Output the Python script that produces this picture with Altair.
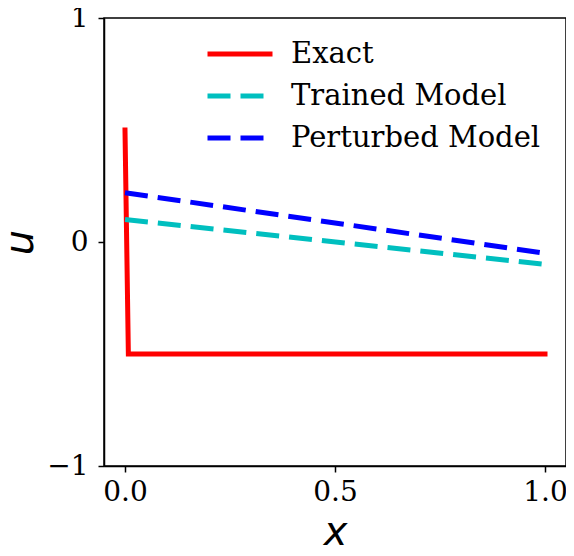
import altair as alt
import pandas as pd

# Data
x_exact = [0.0, 0.008, 1.0]
u_exact = [0.5, -0.5, -0.5]
x_model = [0.0, 1.0]
u_trained = [0.10, -0.10]
u_perturbed = [0.22, -0.05]

series = ["Exact", "Trained Model", "Perturbed Model"]
colors = ["#ff0000", "#00bfbf", "#0000ff"]
dashes = [[1, 0], [23, 10], [23, 10]]
x_ticks = [0, 0.5, 1]

rows = []
for i, (x, u) in enumerate(zip(x_exact, u_exact)):
    rows.append({"x": x, "u": u, "series": "Exact", "order": i})
for i, (x, u) in enumerate(zip(x_model, u_trained)):
    rows.append({"x": x, "u": u, "series": "Trained Model", "order": i})
for i, (x, u) in enumerate(zip(x_model, u_perturbed)):
    rows.append({"x": x, "u": u, "series": "Perturbed Model", "order": i})
df = pd.DataFrame(rows)

legend = alt.Legend(
    title=None,
    orient="none",
    legendX=101,
    legendY=15,
    symbolType="stroke",
    symbolSize=4225,
    symbolStrokeWidth=5,
    labelFont="DejaVu Serif",
    labelFontSize=29,
    labelColor="black",
    labelOffset=16,
    clipHeight=42,
    rowPadding=0,
    labelLimit=400,
)

enc = dict(
    x=alt.X("x:Q",
            scale=alt.Scale(domain=[-0.05, 1.05], nice=False, zero=False),
            axis=alt.Axis(title="x", values=x_ticks, format=".1f", labelOverlap=False,
                          labelFontSize=28, labelPadding=6, titlePadding=6)),
    y=alt.Y("u:Q",
            scale=alt.Scale(domain=[-1, 1], nice=False, zero=False),
            axis=alt.Axis(title="u", tickCount=2, format="d", labelOverlap=False,
                          labelFlush=False, labelFontSize=28, labelPadding=10,
                          titlePadding=6, zindex=1)),
    color=alt.Color("series:N", scale=alt.Scale(domain=series, range=colors), legend=legend),
    strokeDash=alt.StrokeDash("series:N", scale=alt.Scale(domain=series, range=dashes), legend=legend),
    order="order:Q",
)

base = alt.Chart(df)
exact_layer = base.transform_filter(alt.datum.series == "Exact").mark_line(
    strokeWidth=5, strokeCap="square", strokeJoin="round", clip=True
).encode(**enc)
model_layer = base.transform_filter(alt.datum.series != "Exact").mark_line(
    strokeWidth=5, clip=True
).encode(**enc)

chart = alt.layer(exact_layer, model_layer).properties(
    width=462,
    height=448,
    autosize=alt.AutoSizeParams(type="none"),
    padding={"left": 96, "top": 10, "right": 0, "bottom": 82},
).configure_view(
    stroke="black",
    strokeWidth=1.5,
).configure_axis(
    grid=False,
    domainColor="black",
    domainWidth=1.5,
    tickColor="black",
    tickWidth=1.5,
    tickSize=6,
    labelFont="DejaVu Serif",
    labelColor="black",
    titleFont="DejaVu Sans",
    titleFontStyle="italic",
    titleFontWeight="normal",
    titleFontSize=40,
    titleColor="black",
)

chart.save("out.html", embed_options={"renderer": "svg", "actions": False})
